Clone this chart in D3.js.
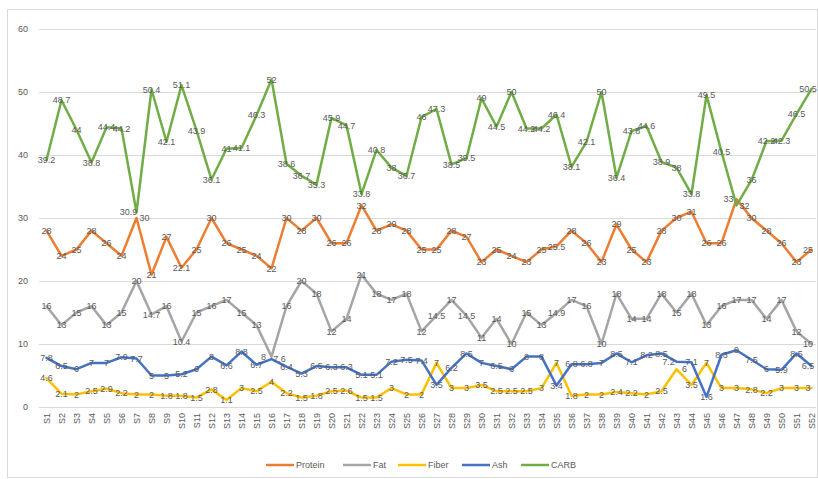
<!DOCTYPE html>
<html>
<head>
<meta charset="utf-8">
<script src="https://cdn.jsdelivr.net/npm/d3@7/dist/d3.min.js"></script>
<style>
  html, body { margin: 0; padding: 0; background: #fff; }
  svg { display: block; font-family: "Liberation Sans", Arial, sans-serif; }
</style>
</head>
<body>
<svg id="chart" width="818" height="479"></svg>
<script>
// Sample names S1..S52
const samples = ["S1","S2","S3","S4","S5","S6","S7","S8","S9","S10","S11","S12","S13","S14","S15","S16","S17","S18","S19","S20","S21","S22","S23","S24","S25","S26","S27","S28","S29","S30","S31","S32","S33","S34","S35","S36","S37","S38","S39","S40","S41","S42","S43","S44","S45","S46","S47","S48","S49","S50","S51","S52"];

const protein = [28,24,25,28,26,24,30,21,27,22.1,25,30,26,25,24,22,30,28,30,26,26,32,28,29,28,25,25,28,27,23,25,24,23,25,25.5,28,26,23,29,25,23,28,30,31,26,26,33,30,28,26,23,25];
const fat = [16,13,15,16,13,15,20,14.7,16,10.4,15,16,17,15,13,8,16,20,18,12,14,21,18,17,18,12,14.5,17,14.5,11,14,10,15,13,14.9,17,16,10,18,14,14,18,15,18,13,16,17,17,14,17,12,10];
const fiber = [4.6,2.1,2,2.5,2.9,2.2,2,2,1.8,1.8,1.5,2.8,1.1,3,2.5,4,2.2,1.5,1.8,2.5,2.6,1.5,1.5,3,2,2,7,3,3,3.5,2.5,2.5,2.5,3,7,1.8,2,2,2.4,2.2,2,2.5,6,3.5,7,3,3,2.8,2.2,3,3,3];
const ash = [7.8,6.5,6,7,7,7.9,7.7,5,5,5.2,6,8,6.6,8.8,6.7,7.6,6.4,5.3,6.5,6.3,6.3,5.1,5.1,7.2,7.5,7.4,3.5,6.2,8.5,7,6.5,6,8,8,3.4,6.8,6.8,7,8.5,7.1,8.2,8.5,7.2,7.1,1.6,8.3,9,7.5,6,5.9,8.5,6.5];
const carb = [39.2,48.7,44,38.8,44.4,44.2,30.9,50.4,42.1,51.1,43.9,36.1,41,41.1,46.3,52,38.6,36.7,35.3,45.9,44.7,33.8,40.8,38,36.7,46,47.3,38.5,39.5,49,44.5,50,44.2,44.2,46.4,38.1,42.1,50,36.4,43.8,44.6,38.9,38,33.8,49.5,40.5,32,36,42.2,42.3,46.5,50.5];

const seriesNames = ["Protein","Fat","Fiber","Ash","CARB"];
const seriesColors = ["#ED7D31","#A5A5A5","#FFC000","#4472C4","#70AD47"];
const yTicks = [0,10,20,30,40,50,60];

const series = [protein, fat, fiber, ash, carb].map((vals, i) => ({
  name: seriesNames[i], color: seriesColors[i], values: vals
}));

const svg = d3.select("#chart");
const W = 818, H = 479;

// chart frame
svg.append("rect")
  .attr("x", 7.5).attr("y", 9.5)
  .attr("width", W - 8).attr("height", H - 11)
  .attr("fill", "#fff").attr("stroke", "#D9D9D9").attr("stroke-width", 1);

const x = d3.scalePoint().domain(samples).range([46.5, 811.5]);
const y = d3.scaleLinear().domain([0, 60]).range([407, 29]);

// horizontal gridlines
svg.append("g")
  .selectAll("line")
  .data(yTicks)
  .join("line")
  .attr("x1", 39).attr("x2", 816)
  .attr("y1", d => Math.round(y(d)) + 0.5)
  .attr("y2", d => Math.round(y(d)) + 0.5)
  .attr("stroke", "#D9D9D9").attr("stroke-width", 1);

// y axis tick labels
const yAxis = d3.axisLeft(y).tickValues(yTicks).tickSize(0).tickPadding(0);
const gy = svg.append("g").attr("transform", "translate(28,0)").call(yAxis);
gy.select(".domain").remove();
gy.selectAll("text")
  .attr("fill", "#595959")
  .attr("font-size", 9)
  .attr("font-family", "Liberation Sans, Arial, sans-serif");

// x axis: rotated sample names
const xAxis = d3.axisBottom(x).tickSize(0).tickPadding(0);
const gx = svg.append("g").attr("transform", `translate(0,${y(0)})`).call(xAxis);
gx.select(".domain").remove();
gx.selectAll("text")
  .attr("fill", "#595959")
  .attr("font-size", 9)
  .attr("font-family", "Liberation Sans, Arial, sans-serif")
  .attr("text-anchor", "end")
  .attr("transform", "rotate(-90)")
  .attr("x", -6)
  .attr("y", 0)
  .attr("dy", "0.32em");

// series lines
const line = d3.line()
  .x((d, i) => x(samples[i]))
  .y(d => y(d));

const gLines = svg.append("g");
series.forEach(s => {
  gLines.append("path")
    .datum(s.values)
    .attr("d", line)
    .attr("fill", "none")
    .attr("stroke", s.color)
    .attr("stroke-width", 2.5)
    .attr("stroke-linejoin", "round")
    .attr("stroke-linecap", "round");
});

// data labels centred on each point; labels of the same sample that would
// collide vertically are pushed apart sideways
const labels = [];
series.forEach((s, si) => {
  s.values.forEach((v, i) => {
    labels.push({ si, i, v, px: x(samples[i]), py: y(v), dx: 0 });
  });
});
d3.groups(labels, d => d.i).forEach(([, group]) => {
  group.sort((a, b) => a.py - b.py);
  for (let k = 1; k < group.length; k++) {
    const a = group[k - 1], b = group[k];
    if (Math.abs(b.py - a.py) < 9 && a.dx === 0 && b.dx === 0) {
      a.dx = -8; b.dx = 8;
    }
  }
});
svg.append("g")
  .selectAll("text")
  .data(labels)
  .join("text")
  .attr("x", d => Math.min(d.px + d.dx, W - 10))
  .attr("y", d => d.py)
  .attr("dy", "0.35em")
  .attr("text-anchor", "middle")
  .attr("font-size", 9)
  .attr("fill", "#595959")
  .text(d => d.v);

// legend
const legendItems = [
  { x: 266, name: "Protein" },
  { x: 343, name: "Fat" },
  { x: 398, name: "Fiber" },
  { x: 462, name: "Ash" },
  { x: 521, name: "CARB" }
];
const gLegend = svg.append("g").attr("transform", "translate(0,465)");
legendItems.forEach((it, i) => {
  gLegend.append("line")
    .attr("x1", it.x).attr("x2", it.x + 28)
    .attr("y1", 0).attr("y2", 0)
    .attr("stroke", seriesColors[i]).attr("stroke-width", 2.5);
  gLegend.append("text")
    .attr("x", it.x + 30).attr("y", 0).attr("dy", "0.35em")
    .attr("font-size", 9).attr("fill", "#595959")
    .text(seriesNames[i]);
});
</script>
</body>
</html>
